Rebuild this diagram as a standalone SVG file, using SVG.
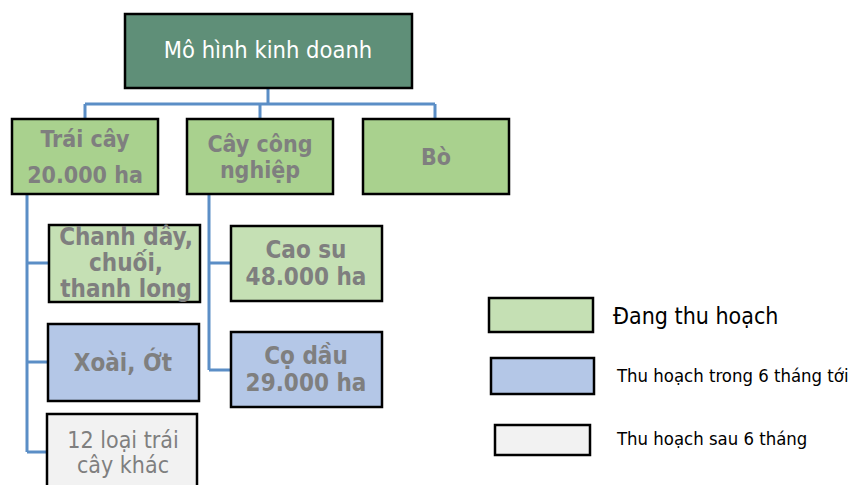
<svg xmlns="http://www.w3.org/2000/svg" width="850" height="485" viewBox="0 0 850 485">
  <style>
    text { font-family: "DejaVu Sans Condensed", "DejaVu Sans", sans-serif; text-anchor: middle; }
    .box { stroke: #000; stroke-width: 2.5; }
    .root { fill: #5f8f78; stroke: #000; stroke-width: 2.5; }
    .now { fill: #a9d18e; }
    .green { fill: #c5e0b4; }
    .blue { fill: #b4c7e7; }
    .gray { fill: #f2f2f2; }
    .lbl { fill: #7f7f7f; font-weight: bold; font-size: 23px; }
    .sub { fill: #7f7f7f; font-weight: bold; font-size: 24px; }
    .lbln { fill: #7f7f7f; font-size: 23px; }
    .wire { fill: none; stroke: #5b8ec6; stroke-width: 3; }
    .leg { fill: #000; text-anchor: start; }
  </style>

  <g id="connectors">
    <path class="wire" d="M268 88 V104 M85 104 H435 M85 104 V119 M260 104 V119 M435 104 V119"/>
    <path class="wire" d="M27 194 V452 M27 263 H49 M27 362 H48 M27 452 H47"/>
    <path class="wire" d="M209 194 V370 M209 263 H231 M209 370 H231"/>
  </g>

  <g id="root">
    <rect class="root" x="125" y="14" width="287" height="74"/>
    <text x="268" y="58" fill="#ffffff" font-size="23.5">Mô hình kinh doanh</text>
  </g>

  <g id="trai-cay">
    <rect class="box now" x="12" y="119" width="146" height="75"/>
    <text class="lbl" x="85" y="147">Trái cây</text>
    <text class="lbl" x="85" y="183">20.000 ha</text>
  </g>

  <g id="cay-cong-nghiep">
    <rect class="box now" x="187" y="119" width="146" height="75"/>
    <text class="lbl" x="260" y="152">Cây công</text>
    <text class="lbl" x="260" y="178">nghiệp</text>
  </g>

  <g id="bo">
    <rect class="box now" x="363" y="119" width="146" height="75"/>
    <text class="lbl" x="436" y="165">Bò</text>
  </g>

  <g id="chanh-day">
    <rect class="box green" x="49" y="225" width="151" height="77"/>
    <text class="sub" x="126" y="245" font-size="25">Chanh dây,</text>
    <text class="sub" x="126" y="271" font-size="25">chuối,</text>
    <text class="sub" x="126" y="297" font-size="25">thanh long</text>
  </g>

  <g id="xoai-ot">
    <rect class="box blue" x="48" y="324" width="151" height="77"/>
    <text class="sub" x="123" y="371">Xoài, Ớt</text>
  </g>

  <g id="trai-cay-khac">
    <rect class="box gray" x="47" y="414" width="150" height="80"/>
    <text class="lbln" x="123" y="448">12 loại trái</text>
    <text class="lbln" x="123" y="473">cây khác</text>
  </g>

  <g id="cao-su">
    <rect class="box green" x="231" y="226" width="151" height="75"/>
    <text class="sub" x="306" y="258">Cao su</text>
    <text class="sub" x="306" y="285">48.000 ha</text>
  </g>

  <g id="co-dau">
    <rect class="box blue" x="231" y="332" width="151" height="75"/>
    <text class="sub" x="306" y="364">Cọ dầu</text>
    <text class="sub" x="306" y="391">29.000 ha</text>
  </g>

  <g id="legend">
    <rect class="box green" x="489" y="298" width="104" height="34"/>
    <text class="leg" x="613" y="324" font-size="23">Đang thu hoạch</text>
    <rect class="box blue" x="491" y="358" width="103" height="36"/>
    <text class="leg" x="617" y="382" font-size="18.4">Thu hoạch trong 6 tháng tới</text>
    <rect class="box gray" x="495" y="425" width="95" height="30"/>
    <text class="leg" x="617" y="445" font-size="18.4">Thu hoạch sau 6 tháng</text>
  </g>
</svg>
